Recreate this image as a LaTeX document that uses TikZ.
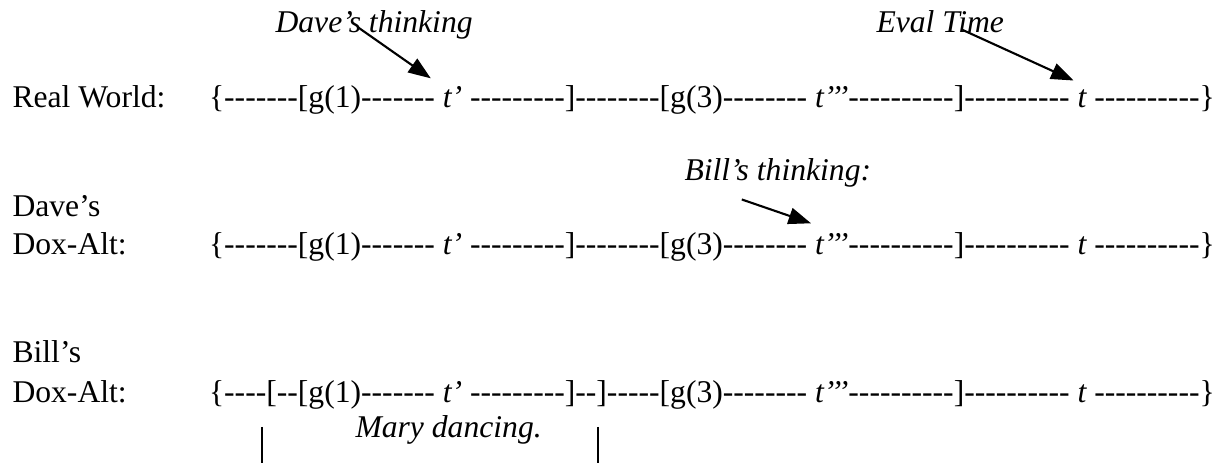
\documentclass[tikz,border=0pt]{standalone}
\usepackage{fontspec}
\setmainfont{Liberation Serif}[Ligatures=TeXOff]
\usetikzlibrary{arrows.meta,positioning}
\tikzset{
  seg/.style={inner sep=0pt, outer sep=0pt, font=\fontsize{12}{14}\selectfont},
  tmk/.style={seg, font=\fontsize{12}{14}\selectfont\itshape},
  rowname/.style={inner sep=0pt, anchor=base west, font=\fontsize{12}{14}\selectfont},
  note/.style={inner sep=0pt, anchor=base west, font=\fontsize{12}{14}\selectfont\itshape},
  ptr/.style={-{Triangle[length=3mm,width=2.2mm]}, line width=0.8pt},
  barline/.style={line width=0.6pt},
}
\begin{document}
\begin{tikzpicture}[x=1cm,y=1cm]
  \useasboundingbox (0,0) rectangle (16.280,-6.173);
  % labels above the lines
  \node[note] (dthink) at (3.667,-0.440) {Dave’s thinking};
  \node[note] (evalt) at (11.680,-0.440) {Eval Time};
  \node[note] (bthink) at (9.120,-2.413) {Bill’s thinking:};
  \node[note] (mary) at (4.733,-5.840) {Mary dancing.};
  % row names
  \node[rowname] (rwname) at (0.160,-1.440) {Real World:};
  \node[rowname] (dvname) at (0.160,-2.893) {Dave’s};
  \node[rowname] (dvname2) at (0.160,-3.387) {Dox-Alt:};
  \node[rowname] (blname) at (0.160,-4.840) {Bill’s};
  \node[rowname] (blname2) at (0.160,-5.373) {Dox-Alt:};
  % real world
  \node[seg, anchor=base west] (rwa) at (2.787,-1.440) {\{-------[g(1)-------};
  \node[tmk, base right=0pt of rwa] (rwt1) {\ t’};
  \node[seg, base right=0pt of rwt1] (rwb) {\ ---------]--------[g(3)--------};
  \node[tmk, base right=0pt of rwb] (rwt3) {\ t’’’};
  \node[seg, base right=0pt of rwt3] (rwc) {----------]----------};
  \node[tmk, base right=0pt of rwc] (rwt) {\ t};
  \node[seg, base right=0pt of rwt] (rwd) {\ ----------\}};
  % dave's dox-alt
  \node[seg, anchor=base west] (dva) at (2.787,-3.387) {\{-------[g(1)-------};
  \node[tmk, base right=0pt of dva] (dvt1) {\ t’};
  \node[seg, base right=0pt of dvt1] (dvb) {\ ---------]--------[g(3)--------};
  \node[tmk, base right=0pt of dvb] (dvt3) {\ t’’’};
  \node[seg, base right=0pt of dvt3] (dvc) {----------]----------};
  \node[tmk, base right=0pt of dvc] (dvt) {\ t};
  \node[seg, base right=0pt of dvt] (dvd) {\ ----------\}};
  % bill's dox-alt
  \node[seg, anchor=base west] (bla) at (2.787,-5.373) {\{----};
  \node[seg, base right=0pt of bla] (blopen) {[};
  \node[seg, base right=0pt of blopen] (blb) {--[g(1)-------};
  \node[tmk, base right=0pt of blb] (blt1) {\ t’};
  \node[seg, base right=0pt of blt1] (blc) {\ ---------]--};
  \node[seg, base right=0pt of blc] (blclose) {]};
  \node[seg, base right=0pt of blclose] (bld) {-----[g(3)--------};
  \node[tmk, base right=0pt of bld] (blt3) {\ t’’’};
  \node[seg, base right=0pt of blt3] (ble) {----------]----------};
  \node[tmk, base right=0pt of ble] (blt) {\ t};
  \node[seg, base right=0pt of blt] (blf) {\ ----------\}};
  % pointers
  \draw[ptr] ([xshift=-0.207cm,yshift=-0.031cm]dthink.center) -- ([shift={(-0.055,0.115)}]rwt1.north west);
  \draw[ptr] ([xshift=0.300cm,yshift=-0.104cm]evalt.center) -- ([shift={(0.052,0.129)}]rwt.north west);
  \draw[ptr] ([xshift=-0.480cm,yshift=-0.150cm]bthink.south) -- ([shift={(0.052,0.129)}]dvt3.north west);
  % span of mary dancing
  \draw[barline] (3.493,-5.693) -- (3.493,-6.173);
  \draw[barline] (7.973,-5.693) -- (7.973,-6.173);
\end{tikzpicture}
\end{document}
